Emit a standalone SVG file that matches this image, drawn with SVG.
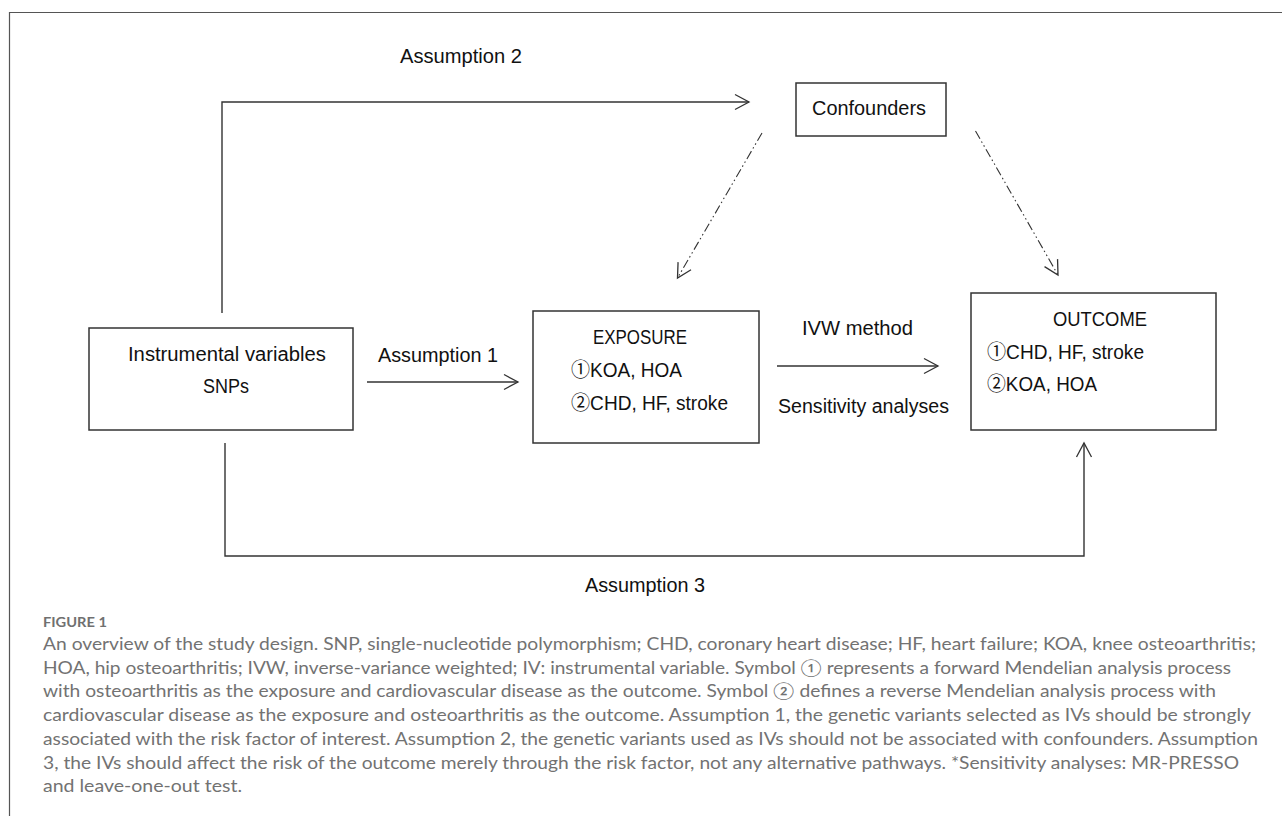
<svg xmlns="http://www.w3.org/2000/svg" width="1282" height="816" viewBox="0 0 1282 816">
<style>
  .lbl { font-family: "Liberation Sans", "Noto Sans CJK SC", sans-serif; font-size: 20px; fill: #111; }
  .box { fill: #fff; stroke: #333; stroke-width: 1.5; }
  .conn { fill: none; stroke: #333; stroke-width: 1.4; }
  .dash { fill: none; stroke: #333; stroke-width: 1.1; stroke-dasharray: 9 3 1.5 3 1.5 3; }
  .cap { font-family: "Lato", "Open Sans", "Noto Sans CJK SC", sans-serif; font-size: 17px; font-weight: 400; fill: #727272; }
  .fig { font-family: "Lato", "Open Sans", sans-serif; font-size: 14px; font-weight: 700; fill: #707070; }
</style>
<defs>
  <marker id="arr" viewBox="-16 -10 18 20" refX="0" refY="0" markerWidth="18" markerHeight="20" markerUnits="userSpaceOnUse" orient="auto">
    <path d="M-14,-7.5 L0,0 L-14,7.5" fill="none" stroke="#333" stroke-width="1.3"/>
  </marker>
</defs>
<rect width="1282" height="816" fill="#fff"/>
<path d="M9.5,816 V12.5 H1282" fill="none" stroke="#555" stroke-width="1.2"/>

<g id="connectors">
  <path class="conn" d="M222,313 V102 H749" marker-end="url(#arr)"/>
  <path class="conn" d="M367,382 H518" marker-end="url(#arr)"/>
  <path class="conn" d="M777,366 H938" marker-end="url(#arr)"/>
  <path class="conn" d="M225,443 V556 H1084 V443" marker-end="url(#arr)"/>
  <path class="dash" d="M762,133 L677.5,278" marker-end="url(#arr)"/>
  <path class="dash" d="M975.5,131 L1058,275" marker-end="url(#arr)"/>
  <text class="lbl" x="400" y="63" textLength="122" lengthAdjust="spacingAndGlyphs">Assumption 2</text>
  <text class="lbl" x="378" y="362" textLength="120" lengthAdjust="spacingAndGlyphs">Assumption 1</text>
  <text class="lbl" x="802" y="335" textLength="111" lengthAdjust="spacingAndGlyphs">IVW method</text>
  <text class="lbl" x="778" y="413" textLength="171" lengthAdjust="spacingAndGlyphs">Sensitivity analyses</text>
  <text class="lbl" x="585" y="592" textLength="120" lengthAdjust="spacingAndGlyphs">Assumption 3</text>
</g>

<g id="confounders">
  <rect class="box" x="796" y="83" width="150" height="53"/>
  <text class="lbl" x="812" y="115" textLength="114" lengthAdjust="spacingAndGlyphs">Confounders</text>
</g>

<g id="instrumental">
  <rect class="box" x="89" y="328" width="264" height="102"/>
  <text class="lbl" x="128" y="361" textLength="198" lengthAdjust="spacingAndGlyphs">Instrumental variables</text>
  <text class="lbl" x="203" y="393" textLength="46" lengthAdjust="spacingAndGlyphs">SNPs</text>
</g>

<g id="exposure">
  <rect class="box" x="533" y="311" width="226" height="132"/>
  <text class="lbl" x="593" y="344" textLength="94" lengthAdjust="spacingAndGlyphs">EXPOSURE</text>
  <text class="lbl" x="571" y="377" textLength="111" lengthAdjust="spacingAndGlyphs">①KOA, HOA</text>
  <text class="lbl" x="571" y="410" textLength="157" lengthAdjust="spacingAndGlyphs">②CHD, HF, stroke</text>
</g>

<g id="outcome">
  <rect class="box" x="971" y="293" width="245" height="137"/>
  <text class="lbl" x="1053" y="326" textLength="94" lengthAdjust="spacingAndGlyphs">OUTCOME</text>
  <text class="lbl" x="987" y="359" textLength="157" lengthAdjust="spacingAndGlyphs">①CHD, HF, stroke</text>
  <text class="lbl" x="987" y="391" textLength="110" lengthAdjust="spacingAndGlyphs">②KOA, HOA</text>
</g>

<g id="caption">
  <text class="fig" x="43" y="627" textLength="64" lengthAdjust="spacingAndGlyphs">FIGURE 1</text>
  <text class="cap" x="43" y="650" textLength="1213" lengthAdjust="spacingAndGlyphs">An overview of the study design. SNP, single-nucleotide polymorphism; CHD, coronary heart disease; HF, heart failure; KOA, knee osteoarthritis;</text>
  <text class="cap" x="43" y="673.7" textLength="1188" lengthAdjust="spacingAndGlyphs">HOA, hip osteoarthritis; IVW, inverse-variance weighted; IV: instrumental variable. Symbol ① represents a forward Mendelian analysis process</text>
  <text class="cap" x="43" y="697.4" textLength="1173" lengthAdjust="spacingAndGlyphs">with osteoarthritis as the exposure and cardiovascular disease as the outcome. Symbol ② defines a reverse Mendelian analysis process with</text>
  <text class="cap" x="43" y="721.1" textLength="1208" lengthAdjust="spacingAndGlyphs">cardiovascular disease as the exposure and osteoarthritis as the outcome. Assumption 1, the genetic variants selected as IVs should be strongly</text>
  <text class="cap" x="43" y="744.8" textLength="1215" lengthAdjust="spacingAndGlyphs">associated with the risk factor of interest. Assumption 2, the genetic variants used as IVs should not be associated with confounders. Assumption</text>
  <text class="cap" x="43" y="768.5" textLength="1196" lengthAdjust="spacingAndGlyphs">3, the IVs should affect the risk of the outcome merely through the risk factor, not any alternative pathways. *Sensitivity analyses: MR-PRESSO</text>
  <text class="cap" x="43" y="792.2" textLength="199" lengthAdjust="spacingAndGlyphs">and leave-one-out test.</text>
</g>
</svg>
